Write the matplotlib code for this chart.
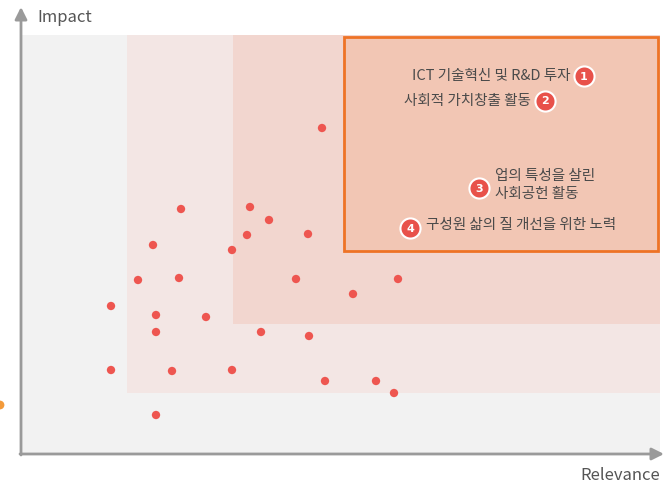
import matplotlib
matplotlib.use('Agg')
import matplotlib.pyplot as plt
from matplotlib.patches import Rectangle

plt.rcParams['font.family'] = ['Noto Sans CJK KR', 'DejaVu Sans']

# points (relevance, impact) in plot units (0..639 x 0..419)
relevance = [160, 229, 248, 226, 287, 132, 211, 117, 158, 275, 377, 332, 90, 135,
             185, 135, 240, 288, 90, 151, 211, 304, 355, 373, 135, 301]
impact = [245, 247, 234, 219, 220, 209, 204, 174, 176, 175, 175, 160, 148, 139,
          137, 122, 122, 118, 84, 83, 84, 73, 73, 61, 39, 326]

# zones: (x0, y0, x1, y1, colour)
zone_x0 = [0, 106, 212]
zone_y0 = [0, 61, 130]
zone_col = ['#f2f2f2', '#f3e6e4', '#f2d6cf']
box = (323, 203, 637, 417)

issue_labels = ['ICT 기술혁신 및 R&D 투자', '사회적 가치창출 활동',
                '업의 특성을 살린\n사회공헌 활동', '구성원 삶의 질 개선을 위한 노력']
issue_num_x = [563, 524, 458, 389]
issue_num_y = [378, 353, 266, 226]

fig = plt.figure(figsize=(6.63, 4.83), dpi=100)
ax = fig.add_axes([21/663, 29/483, 639/663, 419/483])
ax.set_xlim(0, 639)
ax.set_ylim(0, 419)
ax.axis('off')

for x0, y0, c in zip(zone_x0, zone_y0, zone_col):
    ax.add_patch(Rectangle((x0, y0), 639 - x0, 419 - y0, facecolor=c, edgecolor='none', zorder=0))
ax.add_patch(Rectangle((box[0], box[1]), box[2] - box[0], box[3] - box[1],
                       facecolor='#f2c6b4', edgecolor='#ee7326', lw=2, zorder=1))

ax.scatter(relevance, impact, s=36, color='#ee5650', edgecolor='none', zorder=3)

# numbered issues
for i, (lab, nx, ny) in enumerate(zip(issue_labels, issue_num_x, issue_num_y)):
    ax.scatter([nx], [ny], s=210, color='#e8514a', edgecolor='white', lw=1.5, zorder=4)
    ax.text(nx, ny - 0.5, str(i + 1), color='white', fontsize=8, fontweight='bold',
            ha='center', va='center', zorder=5, family='DejaVu Sans')
    if i < 2:
        ax.text(nx - 14, ny, lab, ha='right', va='center', fontsize=10.5, color='#4a4a4a')
    else:
        ax.text(nx + 16, ny + 3, lab, ha='left', va='center', fontsize=10.5, color='#4a4a4a',
                linespacing=1.4)

# axes arrows
ax.annotate('', xy=(0, 447), xytext=(0, -1), annotation_clip=False,
            arrowprops=dict(arrowstyle='-|>', color='#9a9a9a', lw=2, mutation_scale=18,
                            shrinkA=0, shrinkB=0))
ax.annotate('', xy=(643, 0), xytext=(-1, 0), annotation_clip=False,
            arrowprops=dict(arrowstyle='-|>', color='#9a9a9a', lw=2, mutation_scale=18,
                            shrinkA=0, shrinkB=0))
ax.text(16, 436, 'Impact', fontsize=12, color='#555555', va='center', ha='left')
ax.text(639, -21, 'Relevance', fontsize=12, color='#555555', va='center', ha='right')

# partial orange marker at the left edge
ax.scatter([-21], [49], s=40, color='#f39a3a', edgecolor='none', clip_on=False)

fig.savefig('out.png', dpi=100)
